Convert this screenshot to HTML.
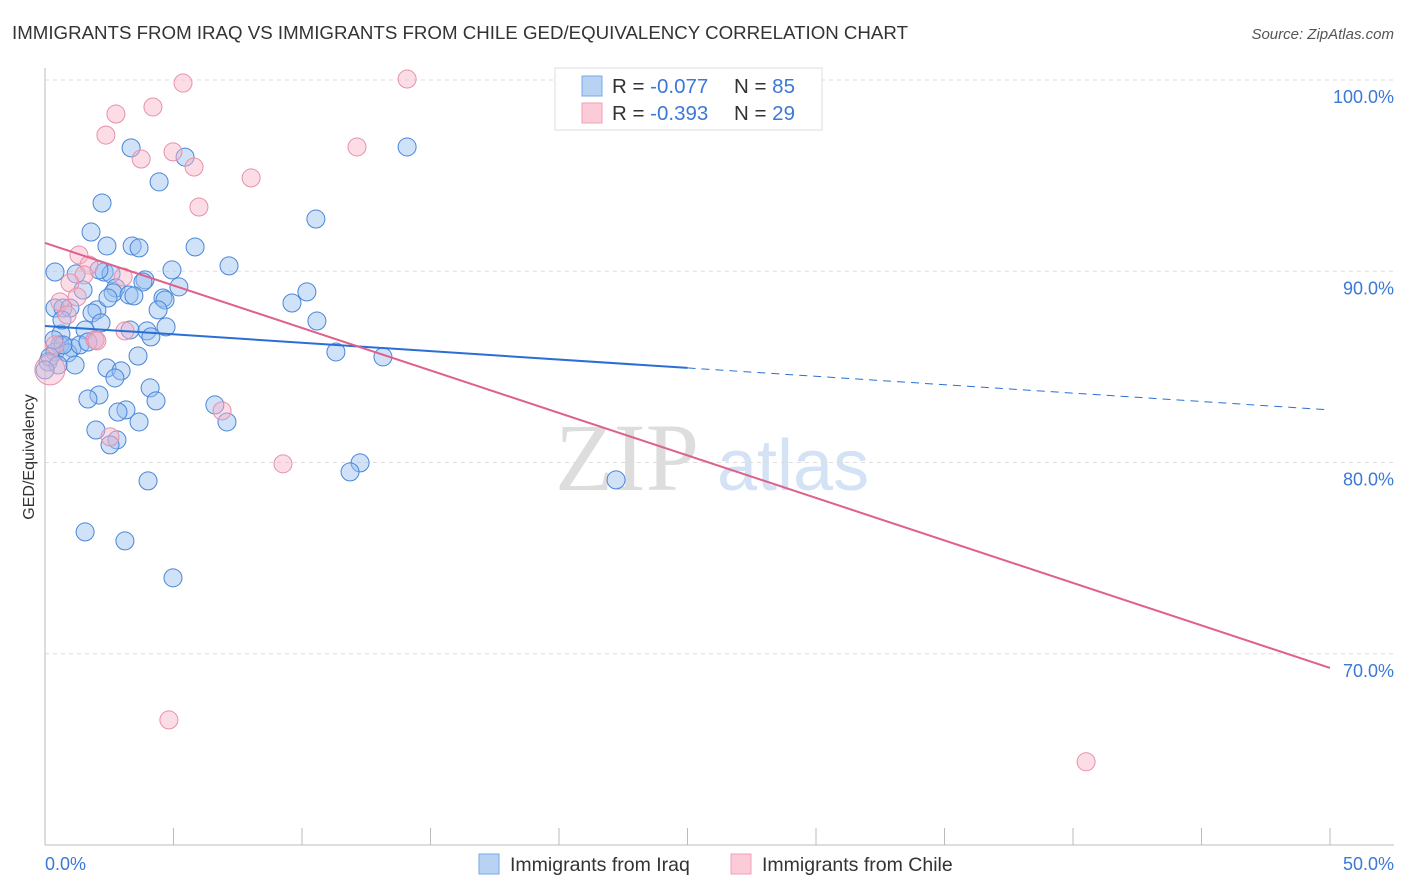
<!DOCTYPE html>
<html><head><meta charset="utf-8"><style>
body{margin:0;background:#fff;font-family:"Liberation Sans",sans-serif;}
svg{display:block}
</style></head><body>
<svg id="chart" width="1406" height="892" xmlns="http://www.w3.org/2000/svg">
<text x="12" y="39" font-size="18" fill="#333" textLength="896" lengthAdjust="spacingAndGlyphs">IMMIGRANTS FROM IRAQ VS IMMIGRANTS FROM CHILE GED/EQUIVALENCY CORRELATION CHART</text>
<text x="1394" y="39" font-size="15" fill="#555" font-style="italic" text-anchor="end">Source: ZipAtlas.com</text>
<g>
<text x="555" y="490" font-family="Liberation Serif" font-size="96" fill="#ddd">ZIP</text>
<text x="717" y="490" font-size="72" fill="#d4e2f5">atlas</text>
</g>
<g id="grid"></g><g id="axes"></g><g id="pts"></g><g id="trends"></g>
<text transform="translate(34,457) rotate(-90)" font-size="16" fill="#333" text-anchor="middle">GED/Equivalency</text>
<text x="45" y="870" font-size="18" fill="#3b78d8">0.0%</text>
<text x="1394" y="870" font-size="18" fill="#3b78d8" text-anchor="end">50.0%</text>
<g>
<rect x="555" y="68" width="267" height="62" fill="#fff" stroke="#ddd"/>
<rect x="582" y="76" width="20" height="20" fill="#b8d2f4" stroke="#7aa8e6"/>
<rect x="582" y="103" width="20" height="20" fill="#fccbd8" stroke="#f0a0b8"/>
<text x="612" y="93" font-size="20.5" fill="#333">R = <tspan fill="#3b78d8">-0.077</tspan><tspan x="734">N = </tspan><tspan fill="#3b78d8">85</tspan></text>
<text x="612" y="120" font-size="20.5" fill="#333">R = <tspan fill="#3b78d8">-0.393</tspan><tspan x="734">N = </tspan><tspan fill="#3b78d8">29</tspan></text>
</g>
<g>
<rect x="479" y="854" width="20" height="20" fill="#b8d2f4" stroke="#7aa8e6"/>
<text x="510" y="871" font-size="19.5" fill="#333">Immigrants from Iraq</text>
<rect x="731" y="854" width="20" height="20" fill="#fccbd8" stroke="#f0a0b8"/>
<text x="762" y="871" font-size="19.5" fill="#333">Immigrants from Chile</text>
</g>
</svg>
<script>
const yTicks=[70,80,90,100];
const yTickLabels=["70.0%","80.0%","90.0%","100.0%"];
const xTicks=[0,5,10,15,20,25,30,35,40,45,50];
const iraqX=[3.35,5.45,14.09,4.44,2.22,10.54,1.79,2.41,3.39,3.66,5.84,0.39,1.21,2.30,2.57,4.94,7.16,3.89,3.81,2.76,2.65,3.27,3.46,4.59,4.67,5.21,10.19,9.61,0.39,0.70,0.97,2.02,1.83,4.40,2.18,10.58,3.31,3.97,4.71,1.56,0.62,4.12,1.95,0.58,1.05,0.39,0.12,0.89,3.62,11.32,13.15,2.41,2.96,2.72,4.09,2.10,1.67,4.32,6.61,3.15,2.84,3.66,7.08,1.98,2.80,2.53,12.26,11.87,4.01,22.22,1.56,3.11,4.98,0.19,0.51,1.36,0.70,1.17,0.0,1.67,0.66,1.48,2.45,2.10,0.35];
const iraqY=[96.45,95.97,96.50,94.67,93.57,92.73,92.05,91.32,91.32,91.22,91.27,89.96,89.86,89.96,89.86,90.07,90.28,89.55,89.44,89.13,88.87,88.76,88.71,88.60,88.50,89.18,88.92,88.34,88.08,88.08,88.08,87.98,87.82,87.98,87.30,87.40,86.93,86.88,87.09,86.93,86.72,86.57,86.41,86.15,85.99,85.78,85.26,85.73,85.57,85.78,85.52,84.94,84.79,84.42,83.90,83.53,83.32,83.22,83.01,82.75,82.64,82.12,82.12,81.70,81.18,80.92,79.98,79.51,79.04,79.09,76.37,75.90,73.97,85.52,85.10,86.15,86.15,85.10,84.84,86.30,87.45,89.02,88.60,90.07,86.41];
const chileX=[5.37,14.09,4.20,2.76,2.37,3.74,4.98,5.80,12.14,8.02,5.99,1.32,1.71,1.52,0.97,1.25,3.04,0.58,0.86,1.95,3.11,2.02,0.39,6.89,2.53,9.26,4.82,40.51,0.19];
const chileY=[99.84,100.05,98.59,98.22,97.12,95.87,96.24,95.45,96.50,94.88,93.36,90.85,90.33,89.81,89.39,88.66,89.70,88.40,87.72,86.41,86.88,86.36,86.15,82.70,81.34,79.93,66.54,64.35,84.84];
const iraqTrend=[87.14,82.75];
const chileTrend=[91.48,69.26];
const NS="http://www.w3.org/2000/svg";
const X=v=>45+v*25.7, Y=v=>845-(v-60)*19.125;
function mk(tag,parent,attrs){const e=document.createElementNS(NS,tag);for(const k in attrs)e.setAttribute(k,attrs[k]);document.getElementById(parent).appendChild(e);return e;}
yTicks.forEach((t,i)=>{
 const l=mk('line','grid',{x1:45,x2:1394,y1:Y(t),y2:Y(t),stroke:'#ddd','stroke-dasharray':'4,4'});
 
 
 const tx=mk('text','grid',{x:1394,y:Y(t)+23,'font-size':18,fill:'#3b78d8','text-anchor':'end'});
 tx.textContent=yTickLabels[i];
 
 
});
const ax=mk('line','axes',{x1:45,x2:45,y1:68,y2:845,stroke:'#bbb'});


const bx=mk('line','axes',{x1:45,x2:1394,y1:845,y2:845,stroke:'#bbb'});


xTicks.forEach(t=>{
 const l=mk('line','axes',{x1:X(t),x2:X(t),y1:828,y2:845,stroke:'#bbb'});
 
 
});
iraqX.forEach((v,i)=>{
 const c=mk('circle','pts',{cx:X(v),cy:Y(iraqY[i]),r:9,fill:'rgba(150,190,240,0.45)',stroke:'#4a86d8','stroke-width':1});
 
 
});
chileX.forEach((v,i)=>{
 const c=mk('circle','pts',{cx:X(v),cy:Y(chileY[i]),r:i==chileX.length-1?15:9,fill:'rgba(248,180,200,0.45)',stroke:'#e890ac','stroke-width':1});
 
 
});
const bm=iraqTrend[0]+(iraqTrend[1]-iraqTrend[0])*0.5;
const t1=mk('line','trends',{x1:X(0),y1:Y(iraqTrend[0]),x2:X(25),y2:Y(bm),stroke:'#2a6fd6','stroke-width':2});


const t2=mk('line','trends',{x1:X(25),y1:Y(bm),x2:X(50),y2:Y(iraqTrend[1]),stroke:'#2a6fd6','stroke-width':1,'stroke-dasharray':'8,6'});


const t3=mk('line','trends',{x1:X(0),y1:Y(chileTrend[0]),x2:X(50),y2:Y(chileTrend[1]),stroke:'#e0608c','stroke-width':2});


</script>
</body></html>
